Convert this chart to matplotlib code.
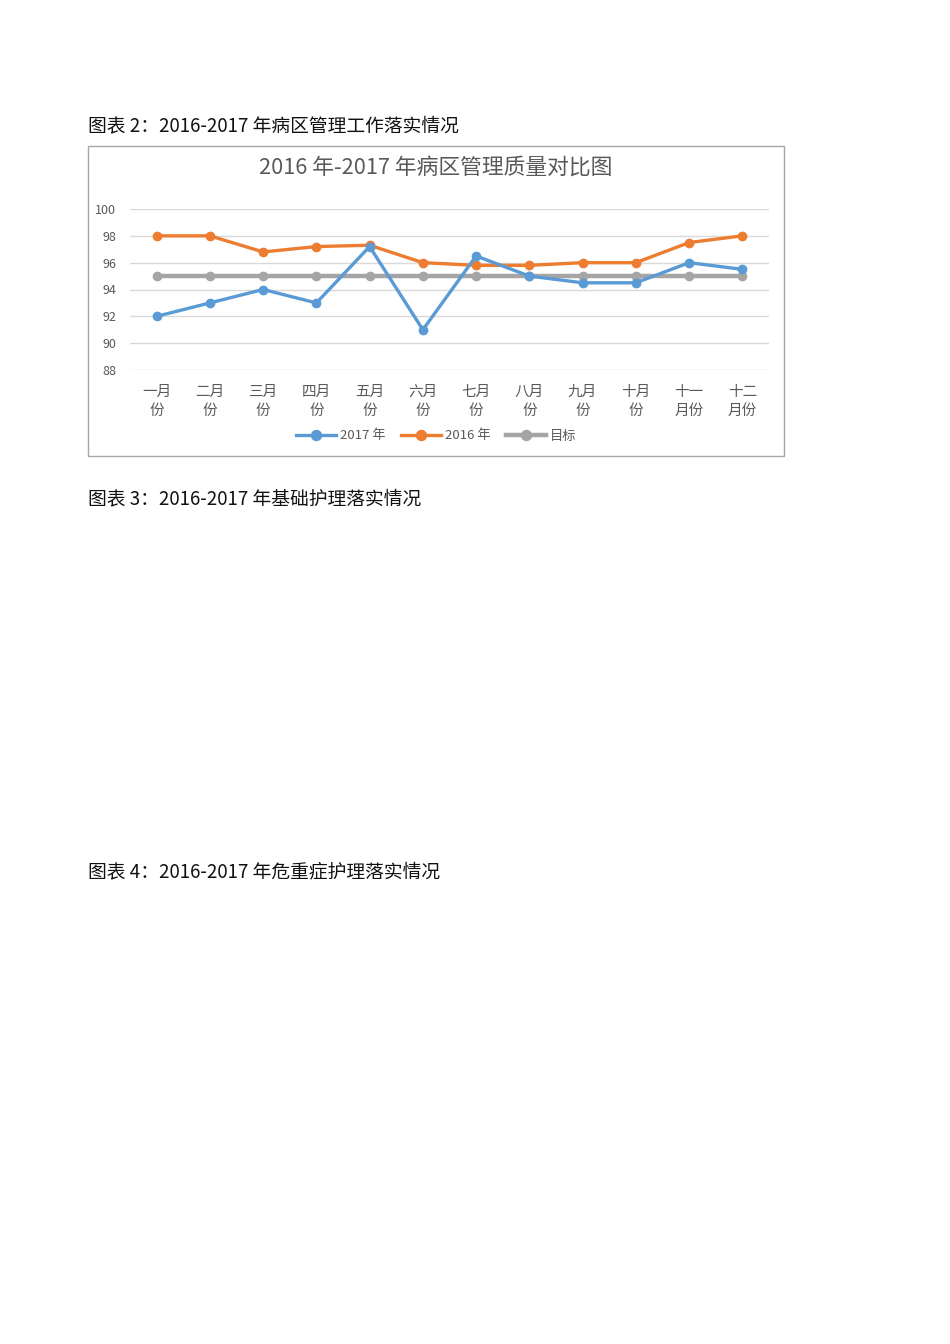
import matplotlib
matplotlib.use("Agg")
import matplotlib.pyplot as plt
from matplotlib.patches import Rectangle

plt.rcParams['font.family'] = ['Noto Sans CJK SC', 'DejaVu Sans']

months = ["一月\n份", "二月\n份", "三月\n份", "四月\n份", "五月\n份", "六月\n份",
          "七月\n份", "八月\n份", "九月\n份", "十月\n份", "十一\n月份", "十二\n月份"]
y2017 = [92, 93, 94, 93, 97.2, 91, 96.5, 95, 94.5, 94.5, 96, 95.5]
y2016 = [98, 98, 96.8, 97.2, 97.3, 96, 95.8, 95.8, 96, 96, 97.5, 98]
target = [95] * 12
yticks = [88, 90, 92, 94, 96, 98, 100]

captions = ["图表 2：2016-2017 年病区管理工作落实情况",
            "图表 3：2016-2017 年基础护理落实情况",
            "图表 4：2016-2017 年危重症护理落实情况"]
caption_y = [126, 499, 872]
chart_title = "2016 年-2017 年病区管理质量对比图"

W, H = 950, 1344
fig = plt.figure(figsize=(W / 100, H / 100), dpi=100)
fig.patch.set_facecolor("white")

def fx(px):
    return px / W

def fy(py):
    return 1 - py / H

# chart border
fig.patches.append(Rectangle((fx(88), fy(456)), fx(784) - fx(88), fy(146) - fy(456),
                             transform=fig.transFigure, fill=False,
                             edgecolor="#A6A6A6", linewidth=1.0))

for cap, cy in zip(captions, caption_y):
    fig.text(fx(88), fy(cy), cap, fontsize=13.5, color="#111111", va="center", ha="left")

fig.text(fx(436), fy(168), chart_title, fontsize=15.7, color="#595959", va="center", ha="center")

ax = fig.add_axes([fx(130), fy(370), fx(769) - fx(130), fy(209) - fy(370)])
x = list(range(len(months)))
ax.plot(x, target, color="#A5A5A5", linewidth=3.2, marker="o", markersize=6, label="目标", zorder=2)
ax.plot(x, y2016, color="#ED7D31", linewidth=2.4, marker="o", markersize=6, label="2016 年", zorder=3)
ax.plot(x, y2017, color="#5B9BD5", linewidth=2.4, marker="o", markersize=6, label="2017 年", zorder=4)

ax.set_xlim(-0.5, 11.5)
ax.set_ylim(88, 100)
ax.set_yticks(yticks)
ax.set_yticklabels([str(v) for v in yticks])
ax.set_xticks(x)
ax.set_xticklabels(months, linespacing=1.5)
ax.tick_params(axis="y", length=0, labelsize=9, labelcolor="#595959", pad=10)
ax.tick_params(axis="x", length=0, labelsize=10.5, labelcolor="#595959", pad=10.5)
ax.grid(axis="y", color="#D9D9D9", linewidth=1)
ax.set_axisbelow(True)
for s in ax.spines.values():
    s.set_visible(False)
ax.patch.set_alpha(0)

handles, labels = ax.get_legend_handles_labels()
order = [2, 1, 0]
fig.legend([handles[i] for i in order], [labels[i] for i in order],
           loc="center", bbox_to_anchor=(fx(436), fy(436)), ncol=3, frameon=False,
           fontsize=9.5, handlelength=3.0, columnspacing=1.2, handletextpad=0.3,
           labelcolor="#595959", markerscale=1.2)

fig.savefig("out.png", dpi=100)
